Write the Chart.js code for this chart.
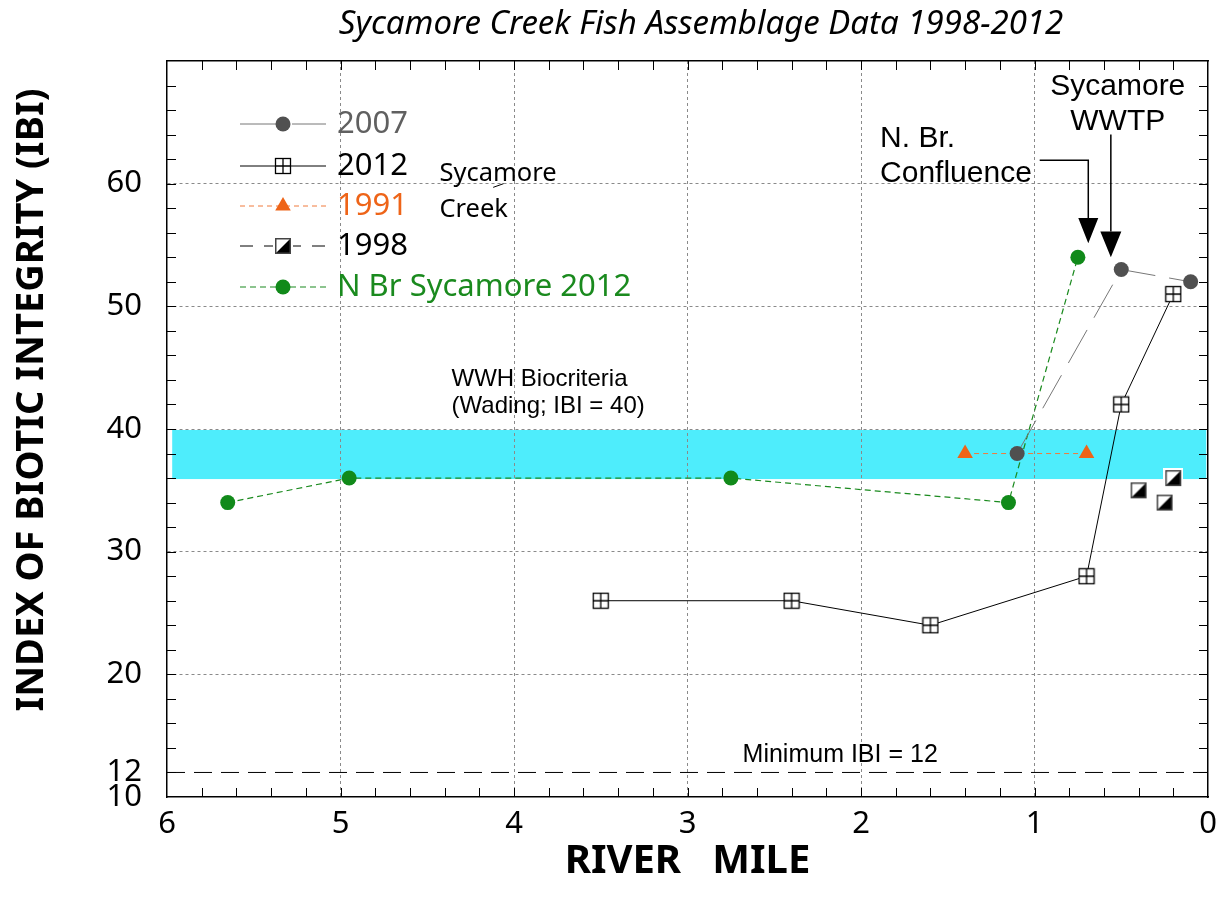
<!DOCTYPE html>
<html>
<head>
<meta charset="utf-8">
<script src="https://cdn.jsdelivr.net/npm/chart.js@4.4.0/dist/chart.umd.min.js"></script>
<style>
  html, body { margin: 0; padding: 0; background: #fff; }
</style>
</head>
<body>
<canvas id="myChart" width="1228" height="911"></canvas>
<script>
// river mile / IBI values
const miles2007 = [1.1, 0.5, 0.1];
const ibi2007 = [38, 53, 52];
const miles2012 = [3.5, 2.4, 1.6, 0.7, 0.5, 0.2];
const ibi2012 = [26, 26, 24, 28, 42, 51];
const miles1991 = [1.4, 0.7];
const ibi1991 = [38, 38];
const miles1998 = [0.4, 0.25, 0.2];
const ibi1998 = [35, 34, 36];
const milesNBr = [5.65, 4.95, 2.75, 1.15, 0.75];
const ibiNBr = [34, 36, 36, 34, 54];

const yTickValues = [10, 12, 20, 30, 40, 50, 60];
const xTickValues = [0, 1, 2, 3, 4, 5, 6];

const wwhLow = 36;
const wwhHigh = 40;
const minIBI = 12;

const FONT = "'Noto Sans', sans-serif";
const ARIAL = "'Liberation Sans', Arial, sans-serif";

const ctx = document.getElementById("myChart");

function toPoints(xs, ys) {
  return xs.map((x, i) => ({ x: x, y: ys[i] }));
}

// square with a cross in it
function boxPlus(size) {
  const c = document.createElement("canvas");
  c.width = c.height = size + 2;
  const g = c.getContext("2d");
  g.fillStyle = "#fff";
  g.fillRect(1, 1, size, size);
  g.strokeStyle = "#000";
  g.lineWidth = 1.3;
  g.strokeRect(1.5, 1.5, size - 1, size - 1);
  g.beginPath();
  g.moveTo(1 + size / 2, 1);
  g.lineTo(1 + size / 2, size + 1);
  g.moveTo(1, 1 + size / 2);
  g.lineTo(size + 1, 1 + size / 2);
  g.stroke();
  return c;
}

// square, lower right half black
function halfSquare(size) {
  const pad = 2;
  const c = document.createElement("canvas");
  c.width = c.height = size + pad * 2;
  const g = c.getContext("2d");
  g.fillStyle = "#fff";
  g.fillRect(0, 0, c.width, c.height);
  const a = pad, b = pad + size;
  g.fillStyle = "#000";
  g.beginPath();
  g.moveTo(a, b);
  g.lineTo(b, a);
  g.lineTo(b, b);
  g.closePath();
  g.fill();
  g.strokeStyle = "#444";
  g.lineWidth = 1.5;
  g.strokeRect(a + 0.75, a + 0.75, size - 1.5, size - 1.5);
  return c;
}

const datasets = [
  {
    label: "2007",
    data: toPoints(miles2007, ibi2007),
    showLine: true,
    borderColor: "#777",
    borderWidth: 1,
    borderDash: [38, 14],
    pointStyle: "circle",
    pointRadius: 7.5,
    pointBackgroundColor: "#505050",
    pointBorderWidth: 0,
  },
  {
    label: "2012",
    data: toPoints(miles2012, ibi2012),
    showLine: true,
    borderColor: "#000",
    borderWidth: 1,
    pointStyle: boxPlus(16),
    pointRadius: 9,
    pointBackgroundColor: "#fff",
    pointBorderWidth: 0,
  },
  {
    label: "1991",
    data: toPoints(miles1991, ibi1991),
    showLine: true,
    borderColor: "#f07a3c",
    borderWidth: 1,
    borderDash: [5, 4],
    pointStyle: "triangle",
    pointRadius: 9,
    pointBackgroundColor: "#ee6418",
    pointBorderWidth: 0,
  },
  {
    label: "1998",
    data: toPoints(miles1998, ibi1998),
    showLine: false,
    borderColor: "#000",
    borderWidth: 1,
    borderDash: [13, 11],
    pointStyle: halfSquare(16),
    pointRadius: 9,
    pointBackgroundColor: "#000",
    pointBorderWidth: 0,
  },
  {
    label: "N Br Sycamore 2012",
    data: toPoints(milesNBr, ibiNBr),
    showLine: true,
    borderColor: "#1a8a1e",
    borderWidth: 1.2,
    borderDash: [6, 4],
    pointStyle: "circle",
    pointRadius: 7.5,
    pointBackgroundColor: "#118a1a",
    pointBorderWidth: 0,
  },
  {
    label: "Minimum IBI",
    data: [{ x: 6, y: minIBI }, { x: 0, y: minIBI }],
    showLine: true,
    borderColor: "#000",
    borderWidth: 1,
    borderDash: [18, 9],
    pointRadius: 0,
  },
];

const legendColors = ["#606060", "#000", "#ee6418", "#000", "#1a8a1e"];
const legendY = [124, 166, 206, 246, 287];

function gridColor(c) {
  if (!c.tick) return "transparent";
  const v = c.tick.value;
  if (c.scale.axis === "x") return v > 0 && v < 6 ? "#8a8a8a" : "transparent";
  return v >= 20 && v <= 60 ? "#8a8a8a" : "transparent";
}

function drawMarker(g, ds, x, y) {
  g.save();
  g.fillStyle = ds.pointBackgroundColor;
  g.strokeStyle = ds.pointBackgroundColor;
  Chart.helpers.drawPoint(g, { pointStyle: ds.pointStyle, radius: ds.pointRadius, rotation: 0, borderWidth: 0 }, x, y);
  g.restore();
}

function text(g, str, x, y, font, color, align) {
  g.save();
  g.font = font;
  g.fillStyle = color || "#000";
  g.textAlign = align || "left";
  g.textBaseline = "alphabetic";
  g.fillText(str, x, y);
  g.restore();
}

const extras = {
  id: "extras",
  beforeDraw(chart) {
    const g = chart.ctx;
    const xs = chart.scales.x, ys = chart.scales.y;
    // WWH criteria band
    const x0 = xs.getPixelForValue(5.97), x1 = xs.getPixelForValue(0.01);
    const y0 = ys.getPixelForValue(wwhHigh), y1 = ys.getPixelForValue(wwhLow);
    g.save();
    g.fillStyle = "#4eedfc";
    g.fillRect(x0, y0 + 1, x1 - x0, y1 - y0);
    g.restore();
  },
  afterDraw(chart) {
    const g = chart.ctx;
    const xs = chart.scales.x, ys = chart.scales.y;
    const a = chart.chartArea;
    const X = (v) => xs.getPixelForValue(v);
    const Y = (v) => ys.getPixelForValue(v);

    // inward minor ticks on all four sides
    g.save();
    g.strokeStyle = "#000";
    g.lineWidth = 1;
    g.beginPath();
    for (let v = 12; v < 70; v += 2) {
      const py = Math.round(Y(v)) + 0.5;
      g.moveTo(a.left, py); g.lineTo(a.left + 9, py);
      g.moveTo(a.right, py); g.lineTo(a.right - 9, py);
    }
    for (let i = 1; i < 30; i++) {
      const px = Math.round(X(i * 0.2)) + 0.5;
      g.moveTo(px, a.bottom); g.lineTo(px, a.bottom - 9);
      g.moveTo(px, a.top); g.lineTo(px, a.top + 9);
    }
    g.stroke();
    g.restore();

    // title and axis titles
    g.save();
    g.font = "italic 33px " + FONT;
    g.fillStyle = "#000";
    g.textAlign = "center";
    g.textBaseline = "middle";
    g.fillText("Sycamore Creek Fish Assemblage Data 1998-2012", 701, 25);
    g.font = "bold 40px " + FONT;
    g.fillText("RIVER   MILE", (a.left + a.right) / 2, 862);
    g.translate(32, 400);
    g.rotate(-Math.PI / 2);
    g.font = "bold 38px " + FONT;
    g.fillText("INDEX OF BIOTIC INTEGRITY (IBI)", 0, 0);
    g.restore();

    // legend
    const ds = chart.data.datasets;
    for (let i = 0; i < 5; i++) {
      const d = ds[i];
      const y = legendY[i];
      g.save();
      g.strokeStyle = d.borderColor;
      g.lineWidth = d.borderWidth;
      g.setLineDash(d.borderDash || []);
      g.beginPath();
      g.moveTo(240, y);
      g.lineTo(326, y);
      g.stroke();
      g.restore();
      drawMarker(g, d, 283, y);
      g.save();
      g.font = "31px " + FONT;
      g.fillStyle = legendColors[i];
      g.textBaseline = "middle";
      g.fillText(d.label, 337, y);
      g.restore();
    }

    // in-plot labels
    text(g, "Sycamore", X(4.43), Y(60.2), "25.5px " + FONT);
    text(g, "Creek", X(4.43), Y(57.3), "25.5px " + FONT);
    g.save();
    g.strokeStyle = "#000";
    g.lineWidth = 1;
    g.beginPath();
    g.moveTo(X(4.12), Y(59.7));
    g.lineTo(X(4.06), Y(60.0));
    g.stroke();
    g.restore();

    text(g, "WWH Biocriteria", X(4.36), Y(43.5), "24px " + ARIAL);
    text(g, "(Wading; IBI = 40)", X(4.36), Y(41.3), "24px " + ARIAL);
    text(g, "Minimum IBI = 12", X(2.12), Y(12.85), "25px " + ARIAL, "#000", "center");

    text(g, "N. Br.", X(1.89), Y(63.0), "30px " + ARIAL);
    text(g, "Confluence", X(1.89), Y(60.1), "30px " + ARIAL);
    text(g, "Sycamore", X(0.52), Y(67.2), "30px " + ARIAL, "#000", "center");
    text(g, "WWTP", X(0.52), Y(64.4), "30px " + ARIAL, "#000", "center");

    // arrows
    g.save();
    g.strokeStyle = "#000";
    g.fillStyle = "#000";
    g.lineWidth = 1.5;
    g.beginPath();
    g.moveTo(X(0.97), Y(61.9));
    g.lineTo(X(0.69), Y(61.9));
    g.lineTo(X(0.69), Y(57.2));
    g.moveTo(X(0.56), Y(64.0));
    g.lineTo(X(0.56), Y(56.1));
    g.stroke();
    g.beginPath();
    g.moveTo(X(0.69) - 10, Y(57.2));
    g.lineTo(X(0.69) + 10, Y(57.2));
    g.lineTo(X(0.69), Y(55.15));
    g.closePath();
    g.moveTo(X(0.56) - 10.5, Y(56.1));
    g.lineTo(X(0.56) + 10.5, Y(56.1));
    g.lineTo(X(0.56), Y(54.0));
    g.closePath();
    g.fill();
    g.restore();
  },
};

new Chart(ctx, {
  type: "scatter",
  data: { datasets: datasets },
  options: {
    responsive: false,
    animation: false,
    devicePixelRatio: 1,
    events: [],
    layout: { padding: 0 },
    plugins: {
      legend: { display: false },
      tooltip: { enabled: false },
      title: { display: false },
    },
    scales: {
      x: {
        type: "linear",
        position: "bottom",
        min: 0,
        max: 6,
        reverse: true,
        afterBuildTicks: (s) => { s.ticks = xTickValues.map((v) => ({ value: v })); },
        afterFit: (s) => { s.height = 114; },
        ticks: { font: { family: FONT, size: 31, lineHeight: 1 }, color: "#000", padding: 12, autoSkip: false, maxRotation: 0 },
        grid: { color: gridColor, lineWidth: 1, drawTicks: false },
        border: { color: "#000", width: 1.5, dash: [3, 3] },
      },
      x2: {
        type: "linear",
        position: "top",
        min: 0,
        max: 6,
        reverse: true,
        afterFit: (s) => { s.height = 61; },
        ticks: { display: false },
        grid: { display: false },
        border: { color: "#000", width: 1.5 },
      },
      y: {
        type: "linear",
        position: "left",
        min: 10,
        max: 70,
        afterBuildTicks: (s) => { s.ticks = yTickValues.map((v) => ({ value: v })); },
        afterFit: (s) => { s.width = 167; },
        ticks: { font: { family: FONT, size: 31, lineHeight: 1 }, color: "#000", padding: 25, autoSkip: false },
        grid: { color: gridColor, lineWidth: 1, drawTicks: false },
        border: { color: "#000", width: 1.5, dash: [3, 3] },
      },
      y2: {
        type: "linear",
        position: "right",
        min: 10,
        max: 70,
        afterFit: (s) => { s.width = 20; },
        ticks: { display: false },
        grid: { display: false },
        border: { color: "#000", width: 1.5 },
      },
    },
  },
  plugins: [extras],
});
</script>
</body>
</html>
